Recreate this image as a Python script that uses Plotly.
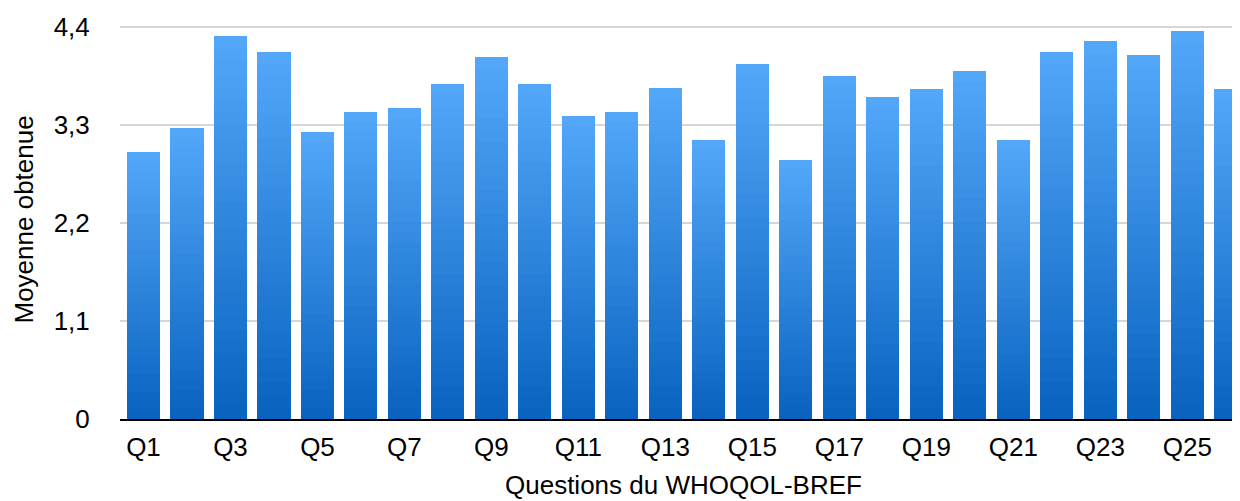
import plotly.graph_objects as go

categories = [f"Q{i}" for i in range(1, 27)]
values = [3.00, 3.27, 4.30, 4.12, 3.22, 3.45, 3.49, 3.76, 4.06, 3.76,
          3.40, 3.45, 3.72, 3.13, 3.99, 2.91, 3.85, 3.61, 3.70, 3.91,
          3.13, 4.12, 4.24, 4.09, 4.36, 3.70]
y_tick_vals = [0, 1.1, 2.2, 3.3, 4.4]
y_tick_text = ["0", "1,1", "2,2", "3,3", "4,4"]
x_tick_vals = categories[::2]
x_title = "Questions du WHOQOL-BREF"
y_title = "Moyenne obtenue"

# vertical gradient inside each bar (dark bottom -> light top), drawn as stacked slices
BOTTOM = (8, 98, 190)
TOP = (83, 168, 250)
N = 30

def mix(t):
    return "rgb({},{},{})".format(*[round(b + (a - b) * t) for a, b in zip(TOP, BOTTOM)])

FONT = "Liberation Sans, Arial, Helvetica, sans-serif"
FS = 26

fig = go.Figure()
for k in range(N):
    fig.add_trace(go.Bar(
        x=categories,
        y=[v / N for v in values],
        marker=dict(color=mix((k + 0.5) / N), line=dict(width=0)),
        showlegend=False,
        customdata=values,
        hovertemplate="%{x}: %{customdata}<extra></extra>",
    ))

# page has an 8px body margin, so the figure is 8px smaller than the window
fig.update_layout(
    width=1232, height=493,
    barmode="stack", bargap=0.24,
    margin=dict(l=112, r=0, t=12, b=82),
    plot_bgcolor="white", paper_bgcolor="white",
    font=dict(family=FONT, size=FS, color="black"),
    showlegend=False,
    annotations=[
        dict(text=x_title, xref="paper", yref="paper", x=0.503, y=0,
             xanchor="center", yanchor="middle", yshift=-66, showarrow=False,
             font=dict(size=FS)),
        dict(text=y_title, xref="paper", yref="paper", x=0, y=0.5,
             xanchor="center", yanchor="middle", xshift=-97, textangle=-90,
             showarrow=False, font=dict(size=FS)),
    ],
)
fig.update_xaxes(
    type="category",
    range=[-0.54, 25.21],
    tickvals=x_tick_vals,
    showline=True, linecolor="black", linewidth=2,
    showgrid=False,
    ticks="outside", ticklen=4, tickcolor="rgba(0,0,0,0)",
    tickfont=dict(size=FS),
)
fig.update_yaxes(
    range=[0, 4.479],
    tickvals=y_tick_vals, ticktext=y_tick_text,
    showgrid=True, gridcolor="#d6d6d6", gridwidth=1.5,
    zeroline=False, showline=False,
    ticks="outside", ticklen=24, tickcolor="rgba(0,0,0,0)",
    tickfont=dict(size=FS),
)

fig.write_html("out.html")
